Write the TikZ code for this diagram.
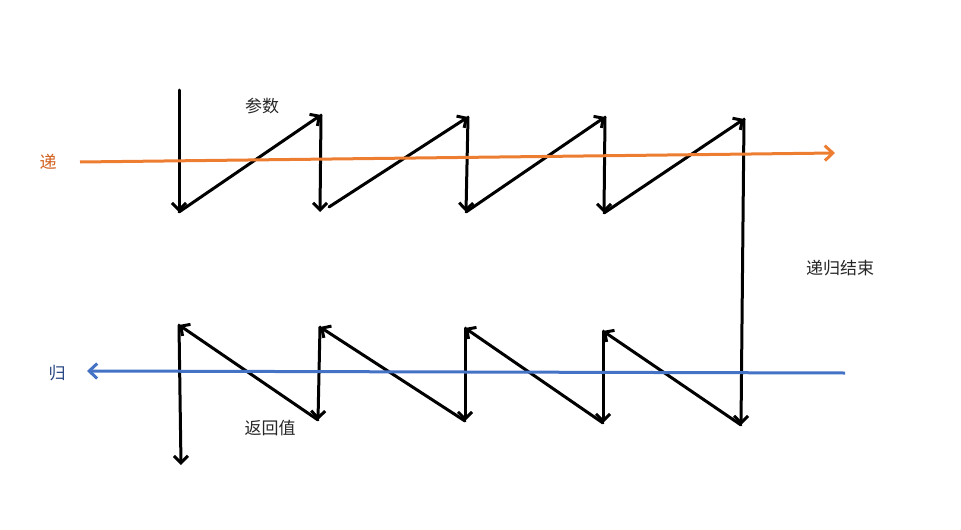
\documentclass[tikz,border=0pt]{standalone}
\usepackage{fontspec}
\newfontfamily\cjk{Noto Sans CJK SC}
\usetikzlibrary{arrows.meta,positioning}
\definecolor{diorange}{RGB}{237,125,49}
\definecolor{didark}{RGB}{210,95,30}
\definecolor{guiblue}{RGB}{68,114,196}
\definecolor{guidark}{RGB}{40,70,130}
\tikzstyle{arrow} = [line width=3pt,line cap=round,-{Straight Barb[length=7pt,width=14pt]}]
\tikzstyle{flow} = [line width=3pt,-{Straight Barb[length=8pt,width=15pt]}]
\tikzstyle{lbl} = [font=\cjk\fontsize{17}{20}\selectfont, text=black!85, inner sep=1pt]

\begin{document}
\begin{tikzpicture}[x=1pt,y=-1pt]
            \useasboundingbox (0,0) rectangle (961,530);
            % going down: parameters
            \coordinate (s0) at (179,90);
            \coordinate (a1) at (179,212);
            \coordinate (h1) at (321,115);
            \coordinate (a2) at (320,212);
            \coordinate (c2) at (329,207);
            \coordinate (h2) at (468,117);
            \coordinate (a3) at (466,212);
            \coordinate (h3) at (605,117);
            \coordinate (a4) at (604,213);
            \coordinate (h4) at (744,119);
            \coordinate (e0) at (741,425);
            % coming back: return values
            \coordinate (u4) at (603,331);
            \coordinate (d3) at (603,423);
            \coordinate (u3) at (465,328);
            \coordinate (d2) at (465,421);
            \coordinate (u2) at (320,327);
            \coordinate (d1) at (318,420);
            \coordinate (u1) at (179,325);
            \coordinate (f0) at (181,465);
            \draw[arrow] (s0) -- (a1);
            \draw[arrow] (a1) -- (h1);
            \draw[arrow] (h1) -- (a2);
            \draw[arrow] (c2) -- (h2);
            \draw[arrow] (h2) -- (a3);
            \draw[arrow] (a3) -- (h3);
            \draw[arrow] (h3) -- (a4);
            \draw[arrow] (a4) -- (h4);
            \draw[arrow] (h4) -- (e0);
            \draw[arrow] (e0) -- (u4);
            \draw[arrow] (u4) -- (d3);
            \draw[arrow] (d3) -- (u3);
            \draw[arrow] (u3) -- (d2);
            \draw[arrow] (d2) -- (u2);
            \draw[arrow] (u2) -- (d1);
            \draw[arrow] (d1) -- (u1);
            \draw[arrow] (u1) -- (f0);
            % the two directions
            \coordinate (distart) at (80,162);
            \coordinate (diend) at (835,153);
            \coordinate (guistart) at (845,373);
            \coordinate (guiend) at (87,371);
            \draw[flow,diorange] (distart) -- (diend);
            \draw[flow,guiblue] (guistart) -- (guiend);
            \node[lbl, text=didark] (di) at (48,162) {递};
            \node[lbl, text=guidark] (gui) at (57,373) {归};
            \node[lbl] (param) at (262,106) {参数};
            \node[lbl] (retval) at (270,428) {返回值};
            \node[lbl] (stop) at (840,268) {递归结束};
        \end{tikzpicture}
\end{document}
